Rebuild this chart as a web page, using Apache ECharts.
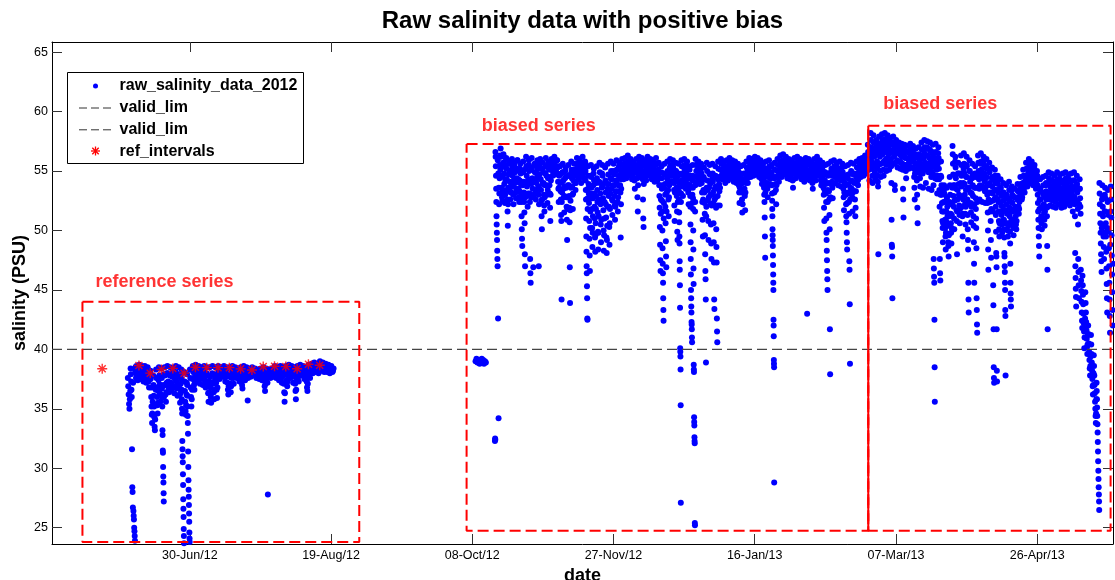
<!DOCTYPE html>
<html>
<head>
<meta charset="utf-8">
<script src="https://cdn.jsdelivr.net/npm/echarts@6/dist/echarts.min.js"></script>
<style>
  html, body { margin: 0; padding: 0; background: #fff; }
  #chart { width: 1115px; height: 580px; }
</style>
</head>
<body>
<div id="chart"></div>
<script>
// ---------------------------------------------------------------------------
// Salinity readings (PSU). Each array holds one entry per calendar day,
// starting at the date given next to it; an entry lists that day's readings
// in time order (they are spread evenly across the day when plotted).
// ---------------------------------------------------------------------------
const salJun12Start = '2012-06-08';
const salJun12 = [
  [37.6, 36.9, 36.2, 35.4, 35.0, 35.8, 36.5],
  [38.4, 37.9, 37.3, 36.6, 36.0, 31.6, 28.4, 28.0, 26.7, 37.2],
  [26.4, 26.0, 25.7, 25.0, 24.7, 24.3, 23.9, 38.2, 38.5, 38.0, 37.6],
  [38.6, 38.2, 37.8, 37.4, 37.9, 38.3],
  [38.7, 38.3, 37.9, 37.5, 38.0, 38.5],
  [38.6, 38.1, 37.7, 37.3, 37.8, 38.3],
  [38.6, 38.2, 37.6, 37.2, 37.9, 38.4],
  [38.5, 37.9, 37.3, 36.8, 37.5, 38.2],
  [38.2, 37.5, 36.8, 36.0, 35.2, 34.5, 33.8, 34.6, 35.6, 36.8],
  [37.8, 37.0, 36.1, 35.2, 34.3, 33.5, 33.2, 34.1, 35.3, 36.6],
  [38.3, 37.6, 36.8, 36.0, 35.3, 34.6, 35.5, 36.5, 37.4],
  [38.5, 37.8, 37.0, 36.3, 35.6, 36.2, 37.0, 37.8],
  [38.4, 37.6, 36.7, 35.9, 35.2, 33.2, 32.8, 31.5, 31.3, 30.1, 29.3, 28.8, 27.9, 27.2, 36.0, 37.0, 37.9],
  [38.5, 37.8, 37.0, 36.2, 35.6, 36.4, 37.2, 38.0],
  [38.6, 38.0, 37.3, 36.7, 36.4, 37.0, 37.8],
  [38.5, 37.9, 37.2, 36.6, 37.1, 37.7, 38.2],
  [38.4, 37.7, 36.9, 36.3, 36.8, 37.5, 38.1],
  [38.6, 38.0, 37.3, 36.7, 36.1, 36.9, 37.7],
  [38.5, 37.8, 37.0, 36.2, 35.5, 36.3, 37.1, 37.9],
  [38.3, 37.5, 36.6, 35.8, 35.0, 34.6, 32.3, 31.6, 31.0, 30.5, 29.5, 28.6, 27.4, 26.6, 25.9, 24.9, 24.3, 23.7],
  [38.1, 37.3, 36.5, 35.6, 34.8, 34.5, 35.3, 36.2, 37.2],
  [37.9, 37.0, 36.1, 35.2, 34.4, 33.8, 32.9, 31.4, 30.1, 29.0, 28.2, 27.6, 26.9, 26.2, 25.5, 24.6, 24.1, 23.8],
  [38.3, 37.6, 36.8, 36.0, 35.2, 35.8, 36.6, 37.5]
];

const salJul12Start = '2012-07-01';
const salJul12 = [
  [38.6, 38.1, 37.6, 37.0, 36.6, 37.2, 37.9],
  [38.7, 38.3, 37.8, 37.4, 37.9, 38.4],
  [38.6, 38.1, 37.6, 37.1, 37.7, 38.3],
  [38.5, 38.0, 37.5, 37.0, 37.6, 38.2],
  [38.6, 38.0, 37.4, 36.8, 37.3, 38.0],
  [38.5, 37.8, 37.0, 36.3, 35.6, 36.4, 37.3],
  [38.5, 37.7, 36.8, 36.0, 35.5, 36.3, 37.2, 38.0],
  [38.6, 37.9, 37.1, 36.4, 35.8, 36.6, 37.5],
  [38.5, 37.9, 37.2, 36.6, 35.9, 36.8, 37.7],
  [38.6, 38.2, 37.8, 37.5, 37.9, 38.3],
  [38.5, 38.2, 37.9, 37.7, 38.0, 38.4],
  [38.6, 38.1, 37.7, 37.3, 37.8, 38.3],
  [38.5, 37.9, 37.2, 36.6, 36.2, 36.9, 37.7],
  [38.5, 37.9, 37.1, 36.4, 36.9, 37.6, 38.1],
  [38.6, 38.1, 37.6, 37.1, 37.7, 38.3],
  [38.5, 38.2, 37.9, 37.6, 38.0, 38.3],
  [38.4, 38.0, 37.7, 37.3, 37.8, 38.2],
  [38.5, 38.0, 37.5, 37.0, 36.7, 37.4, 38.1],
  [38.6, 38.2, 37.8, 37.4, 37.9, 38.3],
  [38.5, 38.1, 37.8, 35.7, 37.6, 38.0, 38.3],
  [38.4, 38.1, 37.9, 37.7, 38.0, 38.2],
  [38.5, 38.2, 38.0, 37.8, 38.1, 38.3],
  [38.4, 38.1, 37.8, 37.6, 37.9, 38.2],
  [38.3, 38.0, 37.7, 37.5, 37.8, 38.1],
  [38.4, 38.0, 37.7, 37.4, 37.8, 38.2],
  [38.5, 38.0, 37.4, 36.9, 36.5, 37.1, 37.8],
  [38.4, 38.0, 37.6, 37.2, 27.8, 37.7, 38.2],
  [38.3, 38.0, 37.8, 37.6, 37.9, 38.1],
  [38.4, 38.1, 37.9, 37.7, 38.0, 38.2],
  [38.6, 38.2, 37.9, 37.6, 38.0, 38.3],
  [38.5, 38.1, 37.7, 37.4, 37.8, 38.2]
];

const salAug12Start = '2012-08-01';
const salAug12 = [
  [38.6, 38.1, 37.6, 37.2, 37.7, 38.3],
  [38.5, 37.8, 37.1, 36.4, 35.6, 36.3, 37.2, 38.0],
  [38.6, 38.0, 37.4, 36.9, 37.3, 37.8, 38.2],
  [38.7, 38.3, 37.9, 37.6, 38.0, 38.4],
  [38.6, 38.1, 37.7, 37.2, 37.8, 38.3],
  [38.5, 37.8, 37.1, 36.5, 35.8, 36.6, 37.4, 38.1],
  [38.6, 38.1, 37.7, 37.3, 37.8, 38.2],
  [38.7, 38.3, 38.0, 37.8, 38.1, 38.4],
  [38.6, 38.2, 37.8, 37.5, 37.9, 38.3],
  [38.5, 37.9, 37.3, 36.8, 36.5, 37.1, 37.7],
  [38.7, 38.3, 37.9, 37.6, 38.0, 38.4],
  [38.8, 38.4, 38.1, 38.0, 38.2, 38.6],
  [38.9, 38.5, 38.2, 38.1, 38.3, 38.7],
  [38.8, 38.4, 38.1, 38.0, 38.2, 38.5],
  [39.0, 38.7, 38.4, 38.2, 38.5, 38.8],
  [38.9, 38.6, 38.3, 38.1, 38.4, 38.7],
  [38.8, 38.5, 38.2, 38.1, 38.3, 38.6],
  [38.7, 38.4, 38.1, 38.0, 38.2, 38.5],
  [38.6, 38.3, 38.1, 38.2, 38.4]
];

const salOct12PreStart = '2012-10-09';
const salOct12Pre = [
  [39.0, 39.2, 38.9],
  [38.9, 39.1, 38.8, 39.0],
  [39.0, 39.2, 38.9, 39.1],
  [38.8, 39.0, 38.9]
];

const salOct12Start = '2012-10-16';
const salOct12 = [
  [32.3, 32.5, 32.4, 56.6, 56.2, 55.4, 54.6, 53.5, 52.4, 51.2, 50.5, 49.8, 49.2, 48.3, 47.6, 47.0],
  [55.9, 42.6, 54.8, 34.2, 53.6, 52.2, 53.1, 54.4, 55.5, 56.3, 55.1],
  [56.9, 56.2, 55.4, 54.5, 53.6, 52.8, 52.5, 53.4, 54.6, 55.7],
  [56.4, 55.6, 54.8, 53.9, 53.1, 52.3, 53.0, 54.2, 55.3, 56.0],
  [56.1, 55.2, 54.3, 53.4, 52.6, 51.6, 50.4, 52.2, 53.6, 54.7, 55.6],
  [55.8, 55.0, 54.1, 53.3, 52.6, 53.2, 54.0, 55.0, 55.6],
  [56.0, 55.3, 54.6, 53.7, 53.0, 52.2, 53.1, 54.3, 55.4],
  [55.7, 54.9, 54.0, 53.2, 52.7, 53.5, 54.4, 55.2, 55.9],
  [55.9, 55.1, 54.3, 53.5, 52.8, 52.4, 53.3, 54.2, 55.2],
  [55.6, 54.8, 53.9, 53.0, 52.4, 51.2, 50.1, 49.3, 48.7, 52.6, 53.8, 54.9],
  [55.8, 55.0, 54.1, 53.2, 52.4, 51.5, 50.6, 48.0, 47.0, 52.8, 54.0, 55.2],
  [56.2, 55.4, 54.6, 53.7, 53.0, 52.0, 53.1, 54.3, 55.5],
  [55.9, 55.0, 54.0, 53.1, 52.4, 47.6, 46.4, 45.6, 52.8, 53.9, 55.1],
  [56.1, 55.3, 54.4, 53.5, 52.8, 46.9, 53.0, 54.3, 55.5],
  [55.6, 54.9, 54.2, 53.4, 52.6, 53.2, 54.0, 54.8, 55.4],
  [55.9, 55.2, 54.5, 53.7, 53.0, 47.0, 52.2, 53.5, 54.7, 55.6]
];

const salNov12Start = '2012-11-01';
const salNov12 = [
  [56.0, 55.2, 54.3, 53.4, 52.5, 51.2, 50.1, 52.6, 53.9, 55.2],
  [55.7, 54.9, 54.0, 53.0, 52.1, 51.6, 52.8, 53.8, 54.8, 55.4],
  [56.1, 55.4, 54.6, 53.8, 53.0, 52.3, 53.4, 54.4, 55.5],
  [55.8, 55.1, 54.5, 53.8, 53.1, 51.9, 50.8, 53.0, 54.2, 55.3],
  [56.0, 55.6, 55.1, 54.6, 54.9, 55.3, 55.8],
  [56.2, 55.7, 55.3, 54.7, 55.0, 55.4, 55.9],
  [55.9, 55.3, 54.8, 54.1, 53.5, 52.4, 53.6, 54.6, 55.4],
  [55.4, 54.7, 54.0, 53.3, 52.6, 51.3, 50.8, 44.2, 52.4, 53.2, 54.1, 54.9],
  [55.6, 54.9, 54.2, 53.5, 52.8, 51.5, 52.9, 53.7, 54.4, 55.0],
  [55.3, 54.5, 53.6, 52.8, 52.0, 50.9, 49.2, 51.8, 52.8, 53.8, 54.6],
  [55.5, 54.6, 53.8, 52.9, 51.9, 50.7, 46.9, 43.9, 51.7, 52.5, 53.6, 54.8],
  [55.8, 55.1, 54.4, 53.7, 53.0, 51.8, 53.1, 54.2, 55.0],
  [55.6, 55.1, 54.6, 54.0, 53.4, 54.0, 54.7, 55.2],
  [56.1, 55.6, 55.0, 54.6, 54.3, 54.8, 55.3, 55.7],
  [56.0, 55.5, 55.1, 54.5, 54.0, 54.6, 55.1, 55.5],
  [56.2, 55.7, 55.2, 54.8, 54.4, 54.9, 55.4, 55.8],
  [55.7, 55.0, 54.2, 53.4, 52.6, 51.0, 49.5, 48.2, 47.0, 46.4, 45.3, 44.3, 42.6, 42.5, 51.8, 52.7, 53.5],
  [55.4, 54.6, 53.9, 53.1, 52.3, 50.8, 49.3, 47.9, 46.6, 50.2, 51.6, 53.1, 54.6],
  [55.5, 54.5, 53.6, 52.7, 51.8, 50.2, 48.6, 49.8, 51.2, 52.7, 53.8, 54.8],
  [55.2, 54.2, 53.1, 52.0, 51.0, 49.4, 48.2, 49.6, 50.6, 51.8, 52.9, 54.0],
  [55.4, 54.4, 53.4, 52.4, 51.5, 49.9, 48.4, 49.8, 51.2, 52.6, 54.1],
  [55.7, 54.9, 54.0, 53.1, 52.2, 50.5, 49.0, 50.9, 52.6, 53.6, 54.8],
  [55.5, 54.6, 53.7, 52.7, 51.7, 50.0, 48.3, 49.6, 51.0, 52.4, 54.0],
  [55.3, 54.2, 53.2, 52.2, 51.1, 49.4, 48.1, 49.2, 50.4, 52.0, 53.5],
  [55.6, 54.7, 53.9, 52.9, 52.0, 50.3, 48.8, 50.6, 51.8, 53.1, 54.4],
  [55.8, 55.0, 54.3, 53.5, 52.6, 51.3, 52.5, 53.8, 55.0],
  [55.6, 54.7, 53.8, 52.9, 52.1, 50.9, 52.0, 53.3, 54.2, 55.0],
  [55.9, 55.1, 54.2, 53.3, 52.4, 51.6, 52.8, 53.8, 54.6, 55.4],
  [55.7, 55.1, 54.5, 53.8, 53.2, 49.4, 52.2, 53.5, 54.3, 54.9],
  [56.0, 55.5, 55.0, 54.6, 54.3, 54.8, 55.2, 55.6]
];

const salDec12Start = '2012-12-01';
const salDec12 = [
  [56.1, 55.6, 55.2, 54.8, 54.4, 54.9, 55.3, 55.7],
  [56.3, 55.8, 55.3, 54.9, 54.6, 55.0, 55.5, 55.9],
  [56.0, 55.5, 55.0, 54.6, 54.3, 54.7, 55.2, 55.6],
  [55.8, 55.3, 54.9, 54.2, 53.5, 54.4, 54.9, 55.4],
  [56.0, 55.5, 55.1, 54.4, 52.8, 51.6, 53.8, 54.6, 55.3],
  [56.2, 55.7, 55.3, 54.9, 54.5, 54.9, 55.4, 55.8],
  [56.1, 55.5, 55.0, 54.3, 52.6, 51.0, 50.3, 53.9, 54.8, 55.5],
  [55.9, 55.4, 55.0, 54.6, 54.2, 54.7, 55.1, 55.5],
  [56.2, 55.8, 55.4, 55.0, 54.6, 55.0, 55.5, 55.9],
  [56.0, 55.5, 55.1, 54.7, 54.3, 54.8, 55.2, 55.7],
  [55.9, 55.4, 54.9, 54.5, 54.1, 54.6, 55.0, 55.5],
  [56.1, 55.6, 55.0, 54.6, 54.2, 54.7, 55.1, 55.6],
  [55.7, 54.8, 53.8, 52.9, 51.9, 50.3, 48.8, 47.5, 46.6, 51.4, 52.6, 53.8, 54.9],
  [55.4, 54.4, 53.5, 52.5, 51.6, 50.0, 48.5, 47.2, 46.4, 45.6, 44.3, 43.3, 42.4, 51.0, 52.3, 53.6, 54.7],
  [55.6, 54.8, 53.9, 53.0, 52.0, 50.6, 49.1, 47.8, 46.9, 51.6, 53.2, 54.4],
  [55.8, 55.0, 54.2, 53.4, 52.6, 51.2, 52.8, 53.8, 54.6, 55.3],
  [56.0, 55.5, 55.0, 54.6, 54.1, 54.6, 55.1, 55.5],
  [55.9, 55.3, 54.6, 54.0, 53.4, 52.1, 50.8, 53.2, 54.2, 55.0],
  [55.7, 55.0, 54.3, 53.6, 52.9, 51.6, 49.9, 49.2, 52.4, 53.6, 54.6],
  [55.6, 54.8, 54.0, 53.3, 52.6, 51.5, 50.7, 49.5, 48.9, 47.4, 46.7, 45.4, 43.5, 40.1, 39.8, 39.4, 38.3, 35.3, 27.1, 52.4, 53.1, 54.2],
  [55.9, 55.4, 54.8, 54.2, 53.7, 52.9, 53.8, 54.6, 55.3],
  [56.0, 55.5, 55.0, 54.5, 54.0, 53.5, 54.3, 55.0, 55.4],
  [55.8, 55.2, 54.6, 53.9, 53.2, 52.2, 53.5, 54.4, 55.1],
  [55.4, 54.6, 53.8, 52.9, 52.0, 50.5, 49.0, 47.6, 46.3, 45.0, 44.3, 43.6, 43.1, 42.3, 42.1, 41.7, 41.0, 40.6, 52.3, 53.0, 54.2],
  [55.5, 54.6, 53.6, 52.7, 51.8, 50.0, 48.4, 46.8, 45.5, 38.7, 38.3, 38.1, 34.3, 33.9, 33.6, 32.6, 32.3, 32.1, 25.4, 25.2, 51.6, 52.4, 53.8],
  [56.0, 55.5, 55.0, 54.5, 54.1, 54.6, 55.1, 55.6],
  [55.8, 55.3, 54.9, 54.4, 53.9, 54.5, 55.0, 55.4],
  [55.6, 54.8, 54.0, 53.2, 52.4, 50.9, 49.5, 52.6, 53.4, 54.5],
  [55.3, 54.3, 53.2, 52.3, 51.4, 49.6, 48.0, 46.6, 45.9, 44.2, 38.9, 51.2, 52.0, 53.6],
  [55.7, 55.0, 54.2, 53.4, 52.5, 50.8, 49.2, 52.8, 53.6, 54.8],
  [55.5, 54.7, 53.9, 53.0, 52.2, 50.5, 48.9, 47.6, 52.1, 53.0, 54.3]
];

const salJan13Start = '2013-01-01';
const salJan13 = [
  [55.6, 54.8, 54.1, 53.2, 52.3, 50.6, 49.0, 47.3, 44.2, 43.4, 52.6, 53.5, 54.6],
  [55.4, 54.6, 53.7, 52.8, 51.9, 50.1, 48.6, 47.3, 42.6, 41.5, 40.6, 52.1, 52.9, 54.3],
  [55.8, 55.2, 54.5, 53.9, 53.3, 52.1, 53.6, 54.4, 55.1],
  [56.0, 55.6, 55.1, 54.7, 54.3, 54.8, 55.2, 55.6],
  [55.8, 55.3, 54.9, 54.4, 54.0, 54.5, 55.0, 55.4],
  [55.9, 55.4, 55.0, 54.6, 54.2, 54.7, 55.1, 55.5],
  [56.1, 55.6, 55.2, 54.8, 54.4, 54.9, 55.3, 55.7],
  [55.9, 55.4, 55.0, 54.5, 54.1, 54.6, 55.1, 55.5],
  [55.8, 55.3, 54.8, 54.4, 54.0, 54.5, 55.0, 55.4],
  [55.6, 55.0, 54.4, 53.8, 53.2, 52.3, 53.6, 54.3, 54.8],
  [55.4, 54.7, 53.9, 53.2, 52.6, 51.5, 52.2, 53.4, 54.3],
  [55.5, 54.8, 54.2, 53.5, 52.9, 51.7, 53.2, 54.0, 54.6],
  [55.8, 55.3, 54.9, 54.4, 54.0, 54.5, 54.9, 55.3],
  [56.1, 55.7, 55.2, 54.8, 54.5, 54.9, 55.3, 55.7],
  [56.0, 55.6, 55.1, 54.8, 54.6, 54.9, 55.2, 55.6],
  [56.2, 55.8, 55.3, 55.0, 54.7, 55.0, 55.4, 55.8],
  [56.1, 55.7, 55.2, 54.8, 54.5, 54.9, 55.3, 55.7],
  [55.9, 55.4, 54.8, 54.3, 53.9, 54.5, 55.0, 55.4],
  [55.7, 55.0, 54.3, 53.6, 53.0, 52.4, 51.1, 49.5, 47.7, 53.2, 54.0, 54.8],
  [55.8, 55.2, 54.6, 54.0, 53.5, 52.8, 53.8, 54.5, 55.1],
  [55.9, 55.4, 54.9, 54.4, 53.9, 54.4, 54.9, 55.4],
  [55.5, 54.7, 53.8, 53.1, 52.5, 51.8, 51.2, 50.1, 49.6, 49.2, 48.7, 47.9, 47.1, 46.3, 45.6, 45.0, 42.5, 42.0, 41.1, 39.1, 38.8, 38.5, 28.8, 53.2, 54.4],
  [55.7, 55.1, 54.5, 53.9, 53.4, 52.2, 53.8, 54.5, 55.0],
  [56.0, 55.5, 55.0, 54.6, 54.1, 54.6, 55.1, 55.5],
  [56.3, 55.8, 55.3, 54.9, 54.5, 54.9, 55.4, 55.9],
  [56.4, 55.9, 55.4, 55.0, 54.7, 55.1, 55.6, 56.0],
  [56.2, 55.7, 55.2, 54.8, 54.4, 54.8, 55.3, 55.8],
  [56.0, 55.5, 55.0, 54.6, 54.3, 54.7, 55.1, 55.6],
  [55.9, 55.3, 54.8, 54.2, 53.6, 54.3, 54.9, 55.3],
  [56.1, 55.6, 55.1, 54.7, 54.4, 54.8, 55.2, 55.7],
  [56.2, 55.7, 55.3, 54.9, 54.6, 55.0, 55.4, 55.8]
];

const salFeb13Start = '2013-02-01';
const salFeb13 = [
  [56.0, 55.5, 55.1, 54.7, 54.3, 54.7, 55.2, 55.6],
  [55.9, 55.4, 54.9, 54.5, 54.1, 54.6, 55.0, 55.4],
  [56.1, 55.6, 55.0, 54.6, 43.0, 54.3, 55.0, 55.7],
  [56.0, 55.5, 55.0, 54.6, 54.2, 54.7, 55.1, 55.5],
  [55.8, 55.2, 54.6, 54.0, 53.5, 54.2, 54.8, 55.2],
  [56.0, 55.5, 55.0, 54.6, 54.2, 54.7, 55.2, 55.6],
  [56.2, 55.7, 55.2, 54.9, 54.6, 55.0, 55.4, 55.8],
  [55.9, 55.3, 54.7, 54.2, 53.8, 54.4, 54.9, 55.3],
  [55.7, 55.0, 54.3, 53.6, 53.0, 51.9, 50.8, 53.4, 54.2, 54.9],
  [55.5, 54.7, 53.9, 53.1, 52.4, 51.0, 49.8, 49.2, 48.3, 47.5, 46.6, 45.9, 45.0, 52.4, 53.4, 54.6],
  [55.6, 54.8, 54.0, 53.3, 52.6, 51.3, 50.1, 41.7, 37.9, 52.8, 53.9, 54.9],
  [55.8, 55.2, 54.6, 54.1, 53.6, 52.7, 53.9, 54.6, 55.1],
  [55.9, 55.4, 55.0, 54.5, 54.0, 54.5, 55.0, 55.4],
  [55.7, 55.2, 54.8, 54.3, 53.8, 54.3, 54.8, 55.2],
  [55.8, 55.2, 54.7, 54.2, 53.7, 54.3, 54.8, 55.3],
  [55.6, 54.9, 54.2, 53.5, 52.8, 51.7, 53.2, 54.0, 54.6],
  [55.4, 54.6, 53.8, 53.0, 52.2, 51.2, 50.7, 49.8, 49.0, 48.4, 52.3, 53.2, 54.4],
  [55.5, 54.7, 53.9, 53.1, 52.4, 51.4, 47.4, 46.7, 43.8, 38.8, 52.6, 53.6, 54.8],
  [55.7, 55.0, 54.2, 53.5, 52.8, 51.6, 53.2, 54.1, 54.7],
  [55.6, 54.8, 54.0, 53.3, 52.6, 51.2, 51.9, 53.3, 54.5],
  [55.8, 55.3, 54.7, 54.2, 53.8, 54.3, 54.9, 55.3],
  [56.0, 55.6, 55.1, 54.8, 54.5, 54.9, 55.3, 55.6],
  [56.1, 55.7, 55.2, 54.9, 54.6, 55.0, 55.4, 55.8],
  [56.3, 55.9, 55.4, 55.1, 54.8, 55.2, 55.6, 56.0],
  [57.2, 56.6, 56.0, 55.5, 55.1, 54.2, 55.2, 56.0, 56.6],
  [58.2, 57.6, 57.0, 56.4, 55.8, 55.2, 54.6, 54.0, 55.4, 56.7],
  [58.0, 57.4, 56.9, 56.2, 55.5, 54.9, 54.3, 55.6, 56.6, 57.3],
  [57.6, 57.1, 56.5, 55.8, 55.2, 54.6, 54.1, 53.7, 48.0, 55.5, 56.9]
];

const salMar13Start = '2013-03-01';
const salMar13 = [
  [57.9, 57.3, 56.8, 56.2, 55.6, 55.0, 54.5, 55.6, 56.6, 57.2],
  [58.1, 57.6, 57.0, 56.4, 55.7, 55.1, 54.6, 55.8, 56.8, 57.5],
  [58.2, 57.7, 57.2, 56.6, 56.0, 55.5, 55.0, 56.0, 57.0, 57.7],
  [58.0, 57.5, 57.0, 56.4, 55.8, 55.1, 55.6, 56.5, 57.4],
  [57.8, 57.2, 56.7, 56.0, 55.4, 54.0, 50.9, 48.8, 48.6, 47.8, 44.3, 55.6, 56.6, 57.2],
  [57.9, 57.4, 56.8, 56.2, 55.6, 53.8, 53.4, 55.7, 56.6, 57.3],
  [57.6, 57.1, 56.5, 55.9, 55.3, 55.8, 56.5, 57.0],
  [57.4, 56.9, 56.4, 55.8, 55.2, 55.7, 56.3, 56.9],
  [57.3, 56.7, 56.2, 55.6, 55.1, 53.5, 52.6, 51.1, 55.4, 56.2, 56.8],
  [57.2, 56.6, 56.1, 55.5, 55.0, 54.4, 55.4, 56.1, 56.6],
  [57.1, 56.6, 56.0, 55.6, 55.2, 55.7, 56.1, 56.5],
  [57.3, 56.8, 56.2, 55.8, 55.3, 55.8, 56.3, 56.8],
  [57.1, 56.5, 55.9, 55.2, 54.5, 53.6, 52.6, 54.8, 55.6, 56.4],
  [56.9, 56.2, 55.6, 54.9, 54.2, 53.0, 51.9, 50.6, 54.4, 55.3, 56.1],
  [57.0, 56.4, 55.8, 55.1, 54.4, 53.7, 54.8, 55.6, 56.3],
  [57.4, 56.8, 56.2, 55.5, 54.8, 53.6, 55.2, 56.0, 56.7],
  [57.6, 57.0, 56.4, 55.7, 55.1, 54.0, 55.5, 56.3, 57.0],
  [57.5, 56.9, 56.3, 55.6, 54.9, 53.5, 55.3, 56.1, 56.8],
  [57.4, 56.7, 56.0, 55.3, 54.5, 53.4, 54.9, 55.8, 56.6],
  [57.2, 56.4, 55.6, 54.7, 53.8, 47.6, 46.8, 46.1, 45.6, 42.5, 38.5, 35.6, 54.4, 55.3, 56.1],
  [57.3, 56.6, 55.9, 55.1, 54.3, 53.1, 54.6, 55.6, 56.5],
  [57.0, 56.1, 55.2, 54.3, 53.4, 52.0, 47.6, 46.4, 45.8, 53.0, 54.6, 55.8],
  [54.5, 53.8, 53.0, 52.3, 51.6, 50.8, 50.2, 49.0, 50.6, 51.6, 52.4, 53.4],
  [53.8, 53.1, 52.4, 51.6, 50.9, 50.2, 49.5, 48.4, 49.8, 50.8, 51.6, 52.8],
  [53.6, 52.8, 52.0, 51.2, 50.5, 49.7, 49.0, 48.7, 47.8, 49.6, 50.4, 51.2, 52.4],
  [54.5, 53.8, 53.0, 52.2, 51.4, 50.6, 49.8, 48.9, 50.2, 51.3, 52.2, 53.6],
  [57.1, 56.4, 55.6, 54.7, 53.8, 52.9, 52.0, 51.0, 50.1, 52.5, 53.8, 54.6, 55.8],
  [56.2, 55.3, 54.4, 53.5, 52.6, 51.7, 50.8, 48.0, 51.6, 52.6, 53.4, 54.8],
  [55.7, 54.8, 53.9, 53.0, 52.1, 51.3, 50.6, 51.8, 52.9, 54.0, 54.8],
  [56.3, 55.5, 54.6, 53.7, 52.8, 52.0, 51.2, 49.5, 51.4, 52.6, 54.0, 55.2],
  [56.5, 55.6, 54.8, 53.9, 53.0, 52.2, 51.4, 50.5, 52.0, 53.4, 54.5, 55.5]
];

const salApr13Start = '2013-04-01';
const salApr13 = [
  [56.2, 55.4, 54.5, 53.6, 52.6, 51.3, 50.1, 49.2, 48.4, 45.6, 44.2, 43.1, 52.2, 53.6, 55.0],
  [55.9, 55.0, 54.1, 53.2, 52.3, 51.5, 50.7, 52.0, 53.1, 54.4],
  [55.6, 54.7, 53.8, 52.9, 52.0, 51.2, 50.4, 49.0, 47.2, 45.6, 52.2, 53.6, 54.8],
  [55.4, 54.5, 53.6, 52.7, 51.8, 51.0, 50.2, 48.5, 44.3, 43.3, 42.1, 41.4, 52.4, 53.6, 54.6],
  [56.3, 55.7, 55.0, 54.3, 53.5, 52.6, 53.8, 54.6, 55.6],
  [56.5, 55.8, 55.1, 54.4, 53.7, 52.4, 53.6, 54.8, 55.8],
  [56.2, 55.5, 54.8, 54.1, 53.3, 52.3, 53.4, 54.4, 55.4],
  [56.0, 55.2, 54.5, 53.8, 53.0, 52.3, 51.5, 50.0, 48.4, 46.7, 52.6, 53.8, 55.2],
  [55.7, 54.9, 54.0, 53.2, 52.4, 51.6, 50.8, 49.2, 47.7, 51.8, 53.2, 54.4],
  [55.3, 54.5, 53.7, 53.1, 52.5, 51.6, 45.4, 43.7, 41.7, 38.5, 37.6, 37.2, 52.6, 53.4, 54.2],
  [55.1, 54.6, 54.0, 53.4, 52.8, 52.0, 51.3, 49.9, 48.1, 47.8, 46.9, 41.7, 38.2, 37.3, 52.6, 53.4, 54.2],
  [54.6, 53.9, 53.2, 52.4, 51.6, 50.8, 50.1, 49.5, 50.6, 51.6, 52.4, 53.6],
  [54.3, 53.6, 52.9, 52.1, 51.3, 50.5, 49.8, 50.8, 51.6, 52.0, 53.2],
  [54.0, 53.2, 52.5, 51.7, 50.9, 50.1, 49.4, 48.1, 47.8, 47.0, 46.5, 45.6, 45.0, 43.3, 42.8, 37.8, 50.6, 51.7, 52.8],
  [53.8, 53.0, 52.2, 51.4, 50.6, 50.0, 49.5, 50.4, 51.4, 52.6],
  [54.1, 53.4, 52.7, 51.9, 51.2, 50.5, 49.9, 48.9, 47.2, 45.6, 44.7, 44.2, 43.6, 50.8, 51.6, 52.4, 53.4],
  [53.7, 53.0, 52.3, 51.6, 50.9, 50.2, 49.6, 50.6, 51.8, 52.8],
  [53.5, 52.8, 52.0, 51.2, 50.5, 50.1, 50.8, 51.6, 52.6],
  [53.9, 53.3, 52.6, 52.0, 51.4, 51.8, 52.4, 52.9, 53.5],
  [54.5, 53.9, 53.3, 52.9, 52.6, 52.8, 53.4, 54.0],
  [55.1, 54.6, 54.0, 53.6, 53.2, 53.7, 54.2, 54.6],
  [55.7, 55.2, 54.6, 54.1, 53.7, 54.2, 54.8, 55.2],
  [56.0, 55.5, 54.9, 54.4, 54.0, 54.5, 55.0, 55.5],
  [55.8, 55.3, 54.7, 54.2, 53.8, 54.3, 54.9, 55.3],
  [55.5, 55.0, 54.3, 53.9, 53.5, 54.0, 54.6, 55.0],
  [54.6, 53.8, 53.0, 52.3, 51.6, 50.9, 50.2, 49.5, 48.7, 47.8, 51.8, 52.6, 53.4],
  [54.3, 53.5, 52.6, 51.9, 51.2, 50.6, 50.1, 51.0, 52.0, 53.2],
  [54.5, 53.8, 53.0, 52.2, 51.5, 50.9, 50.4, 51.6, 52.8, 53.8],
  [54.6, 54.0, 53.3, 52.6, 51.9, 51.2, 48.7, 46.7, 41.7, 52.0, 53.0, 54.0],
  [54.9, 54.4, 53.8, 53.2, 52.6, 52.1, 52.7, 53.6, 54.2]
];

const salMay13Start = '2013-05-01';
const salMay13 = [
  [54.8, 54.2, 53.7, 53.1, 52.5, 52.0, 52.7, 53.4, 54.1],
  [54.6, 54.0, 53.5, 52.9, 52.4, 51.9, 52.6, 53.3, 53.9],
  [54.9, 54.3, 53.8, 53.2, 52.7, 52.2, 52.9, 53.6, 54.3],
  [54.7, 54.1, 53.4, 52.9, 52.3, 51.9, 52.6, 53.3, 54.0],
  [54.8, 54.2, 53.6, 53.0, 52.4, 52.0, 52.7, 53.5, 54.2],
  [54.9, 54.4, 53.9, 53.3, 52.8, 52.3, 53.0, 53.7, 54.4],
  [54.7, 54.2, 53.6, 53.1, 52.6, 52.1, 52.8, 53.4, 54.1],
  [54.8, 54.2, 53.7, 53.0, 52.5, 51.6, 52.4, 53.4, 54.2],
  [54.9, 54.2, 53.5, 52.8, 52.2, 51.2, 48.1, 47.0, 46.0, 45.1, 44.4, 43.6, 52.4, 53.8],
  [54.6, 53.9, 53.2, 52.5, 51.8, 50.5, 47.6, 46.5, 45.4, 44.3, 52.2, 53.5],
  [54.3, 53.5, 52.7, 52.0, 51.4, 46.7, 45.8, 44.9, 44.0, 43.1, 42.4, 41.8],
  [46.2, 45.4, 44.6, 43.8, 43.0, 42.2, 41.5, 40.1, 41.0, 41.8, 42.6],
  [44.8, 43.9, 43.1, 42.3, 41.6, 40.9, 40.2, 39.6, 40.4, 41.2],
  [42.0, 41.3, 40.5, 39.8, 39.1, 38.4, 37.8, 38.6, 39.4],
  [41.2, 40.4, 39.6, 38.9, 38.2, 37.5, 36.9, 36.2, 37.0, 38.0],
  [39.5, 38.6, 37.8, 37.0, 36.3, 35.6, 35.0, 34.4, 33.8, 34.6, 35.8],
  [37.2, 36.5, 35.8, 35.1, 34.4, 33.7, 33.0, 32.2, 31.4, 30.6, 29.8, 29.1, 28.4, 27.8, 27.2, 26.5],
  [54.0, 53.1, 52.2, 51.4, 50.6, 49.8, 48.9, 48.0, 47.4, 46.5, 50.2, 52.6],
  [53.8, 52.9, 52.0, 51.2, 50.3, 49.5, 48.6, 47.6, 49.8, 51.6, 53.0],
  [53.6, 52.7, 51.6, 50.6, 49.5, 48.2, 46.8, 45.5, 44.3, 43.1, 50.2, 52.4],
  [53.4, 52.5, 51.3, 49.9, 48.5, 47.0, 45.6, 44.2, 42.8, 41.4, 48.8, 51.6],
  [53.7, 52.6, 51.1, 49.6, 47.9, 46.3, 44.8, 43.3, 42.0, 47.2, 50.4]
];

// Reference-interval estimates (salinity at the start of each interval)
const refIntervalDates = [
  '2012-05-30', '2012-06-12', '2012-06-16', '2012-06-20', '2012-06-24', '2012-06-28',
  '2012-07-02', '2012-07-06', '2012-07-10', '2012-07-14', '2012-07-18', '2012-07-22',
  '2012-07-26', '2012-07-30', '2012-08-03', '2012-08-07', '2012-08-11', '2012-08-15'
];
const refIntervalValues = [
  38.37, 38.64, 38.0, 38.3, 38.4, 38.0,
  38.49, 38.46, 38.46, 38.46, 38.36, 38.27,
  38.55, 38.58, 38.55, 38.37, 38.75, 38.66
];

// Validity limits for salinity (PSU)
const validLimits = [40, 2];

// Axis ticks
const xTickDates = ['2012-06-30', '2012-08-19', '2012-10-08', '2012-11-27', '2013-01-16', '2013-03-07', '2013-04-26'];
const xTickLabels = ['30-Jun/12', '19-Aug/12', '08-Oct/12', '27-Nov/12', '16-Jan/13', '07-Mar/13', '26-Apr/13'];
const yTicks = [25, 30, 35, 40, 45, 50, 55, 60, 65];

// Highlighted periods: [from, to, bottom, top]
const seriesBoxes = [
  ['2012-05-23T00:00', '2012-08-29T00:00', 23.8, 44.0],
  ['2012-10-06T00:00', '2013-02-25T05:00', 24.75, 57.27],
  ['2013-02-25T05:00', '2013-05-22T00:00', 24.75, 58.8]
];
const splitDate = '2013-02-25T05:00';
const boxTitles = ['reference series', 'biased series', 'biased series'];
const boxTitleDates = ['2012-05-27T15:00', '2012-10-11T08:00', '2013-03-02T12:30'];
const boxTitleValues = [45.7, 58.8, 60.64];

// ---------------------------------------------------------------------------
const FONT = "'Liberation Sans', Arial, Helvetica, sans-serif";
// Time is expressed in days (UTC) since 1970-01-01.
const dayNum = s => {
  const p = s.split(/[-T:]/).map(Number);
  return Date.UTC(p[0], p[1] - 1, p[2], p[3] || 0, p[4] || 0) / 86400000;
};

const salinityBlocks = [
  [salJun12Start, salJun12], [salJul12Start, salJul12], [salAug12Start, salAug12],
  [salOct12PreStart, salOct12Pre], [salOct12Start, salOct12], [salNov12Start, salNov12],
  [salDec12Start, salDec12], [salJan13Start, salJan13], [salFeb13Start, salFeb13],
  [salMar13Start, salMar13], [salApr13Start, salApr13], [salMay13Start, salMay13]
];

const rawPoints = [];
salinityBlocks.forEach(([start, days]) => {
  const d0 = dayNum(start);
  days.forEach((readings, d) => {
    readings.forEach((v, k) => {
      rawPoints.push([d0 + d + (k + 0.5) / readings.length, v]);
    });
  });
});

const xMin = dayNum('2012-05-12T05:17');
const xMax = dayNum('2013-05-22T20:24');
const yMin = 23.63, yMax = 65.85;
const xTickDays = xTickDates.map(dayNum);

const refPoints = refIntervalDates.map((d, i) => [dayNum(d), refIntervalValues[i]]);

const STAR = 'path://M4.3 0L5.7 0L5.7 10L4.3 10ZM0 4.3L10 4.3L10 5.7L0 5.7Z' +
  'M1.0 2.0L2.0 1.0L9.0 8.0L8.0 9.0ZM8.0 1.0L9.0 2.0L2.0 9.0L1.0 8.0Z';

const boxSeries = seriesBoxes.map(([a, b, lo, hi]) => ({
  type: 'line', silent: true, clip: false, symbol: 'none', z: 5,
  data: [[dayNum(a), hi], [dayNum(b), hi], [dayNum(b), lo], [dayNum(a), lo], [dayNum(a), hi]],
  lineStyle: { color: '#ff0000', width: 2, type: [11, 5] }
}));

const chart = echarts.init(document.getElementById('chart'), null, { renderer: 'canvas' });

const axisCommon = {
  axisLine: { show: true, onZero: false, lineStyle: { color: '#000', width: 1 } },
  splitLine: { show: false }
};

chart.setOption({
  animation: false,
  backgroundColor: '#fff',
  textStyle: { fontFamily: FONT },
  grid: { left: 52, right: 2, top: 42, bottom: 36, containLabel: false, outerBoundsMode: 'none' },
  xAxis: [
    Object.assign({
      type: 'value', position: 'bottom', min: xMin, max: xMax, scale: true,
      axisTick: { show: true, inside: true, length: 10, customValues: xTickDays, lineStyle: { color: '#333' } },
      axisLabel: {
        show: true, customValues: xTickDays, color: '#000', fontSize: 12.5, fontFamily: FONT, margin: 5,
        formatter: v => {
          const i = xTickDays.findIndex(t => Math.abs(t - v) < 1e-6);
          return i >= 0 ? xTickLabels[i] : '';
        }
      },
      name: 'date', nameLocation: 'middle', nameGap: 18,
      nameTextStyle: { color: '#000', fontSize: 18, fontWeight: 'bold', fontFamily: FONT }
    }, axisCommon),
    Object.assign({
      type: 'value', position: 'top', min: xMin, max: xMax, scale: true,
      axisTick: { show: true, inside: true, length: 10, customValues: xTickDays, lineStyle: { color: '#333' } },
      axisLabel: { show: false }
    }, axisCommon)
  ],
  yAxis: [
    Object.assign({
      type: 'value', position: 'left', min: yMin, max: yMax, scale: true,
      axisTick: { show: true, inside: true, length: 10, customValues: yTicks, lineStyle: { color: '#333' } },
      axisLabel: { show: true, customValues: yTicks, color: '#000', fontSize: 12.5, fontFamily: FONT, margin: 4 },
      name: 'salinity (PSU)', nameLocation: 'middle', nameGap: 23, nameMoveOverlap: false,
      nameTextStyle: { color: '#000', fontSize: 18, fontWeight: 'bold', fontFamily: FONT }
    }, axisCommon),
    Object.assign({
      type: 'value', position: 'right', min: yMin, max: yMax, scale: true,
      axisTick: { show: true, inside: true, length: 10, customValues: yTicks, lineStyle: { color: '#333' } },
      axisLabel: { show: false }
    }, axisCommon)
  ],
  series: [
    {
      name: 'raw_salinity_data_2012', type: 'scatter', data: rawPoints, silent: true,
      symbol: 'circle', symbolSize: 6, progressive: 0, large: false, z: 2,
      itemStyle: { color: '#0000ff', opacity: 1 }
    },
    ...validLimits.map(lim => ({
      name: 'valid_lim', type: 'line', silent: true, symbol: 'none', clip: true, z: 3,
      data: [[xMin, lim], [xMax, lim]],
      lineStyle: { color: '#444', width: 1.2, type: [10, 5] }
    })),
    {
      name: 'ref_intervals', type: 'scatter', data: refPoints, silent: true, z: 4,
      symbol: STAR, symbolSize: 10, itemStyle: { color: '#ff0000' }
    },
    ...boxSeries,
    {
      type: 'line', silent: true, clip: false, symbol: 'none', z: 6,
      data: [[dayNum(splitDate), seriesBoxes[1][2]], [dayNum(splitDate), seriesBoxes[2][3]]],
      lineStyle: { color: '#ff0000', width: 2, type: 'solid' }
    },
    {
      type: 'scatter', silent: true, z: 7, symbolSize: 0,
      data: boxTitles.map((t, i) => ({ name: t, value: [dayNum(boxTitleDates[i]), boxTitleValues[i]] })),
      label: {
        show: true, position: 'right', distance: 0, formatter: p => p.name,
        color: '#ff0000', fontSize: 18, fontWeight: 'bold', fontFamily: FONT,
        align: 'left', verticalAlign: 'middle'
      }
    }
  ],
  graphic: [
    {
      type: 'text', x: 582.5, y: 21, z: 100,
      style: { text: 'Raw salinity data with positive bias', fill: '#000',
        font: 'bold 24px ' + FONT, align: 'center', verticalAlign: 'middle' }
    },
    {
      type: 'group', z: 100,
      children: [
        { type: 'rect', z: 100, shape: { x: 67.5, y: 72.5, width: 236, height: 91 },
          style: { fill: '#fff', stroke: '#000', lineWidth: 1 } },
        { type: 'circle', z: 101, shape: { cx: 95.5, cy: 86, r: 2.5 }, style: { fill: '#0000ff' } },
        { type: 'line', z: 101, shape: { x1: 79, y1: 108, x2: 115, y2: 108 },
          style: { stroke: '#333', lineWidth: 1, lineDash: [8, 4] } },
        { type: 'line', z: 101, shape: { x1: 79, y1: 129.8, x2: 115, y2: 129.8 },
          style: { stroke: '#333', lineWidth: 1, lineDash: [8, 4] } },
        { type: 'line', z: 101, shape: { x1: 95.5, y1: 146.5, x2: 95.5, y2: 155.5 }, style: { stroke: '#ff0000', lineWidth: 1.3 } },
        { type: 'line', z: 101, shape: { x1: 91, y1: 151, x2: 100, y2: 151 }, style: { stroke: '#ff0000', lineWidth: 1.3 } },
        { type: 'line', z: 101, shape: { x1: 92.3, y1: 147.8, x2: 98.7, y2: 154.2 }, style: { stroke: '#ff0000', lineWidth: 1.3 } },
        { type: 'line', z: 101, shape: { x1: 98.7, y1: 147.8, x2: 92.3, y2: 154.2 }, style: { stroke: '#ff0000', lineWidth: 1.3 } },
        { type: 'text', z: 101, x: 119.5, y: 86, style: { text: 'raw_salinity_data_2012', fill: '#000', font: 'bold 16px ' + FONT, verticalAlign: 'middle' } },
        { type: 'text', z: 101, x: 119.5, y: 108, style: { text: 'valid_lim', fill: '#000', font: 'bold 16px ' + FONT, verticalAlign: 'middle' } },
        { type: 'text', z: 101, x: 119.5, y: 129.8, style: { text: 'valid_lim', fill: '#000', font: 'bold 16px ' + FONT, verticalAlign: 'middle' } },
        { type: 'text', z: 101, x: 119.5, y: 151.5, style: { text: 'ref_intervals', fill: '#000', font: 'bold 16px ' + FONT, verticalAlign: 'middle' } }
      ]
    }
  ]
});
</script>
</body>
</html>
